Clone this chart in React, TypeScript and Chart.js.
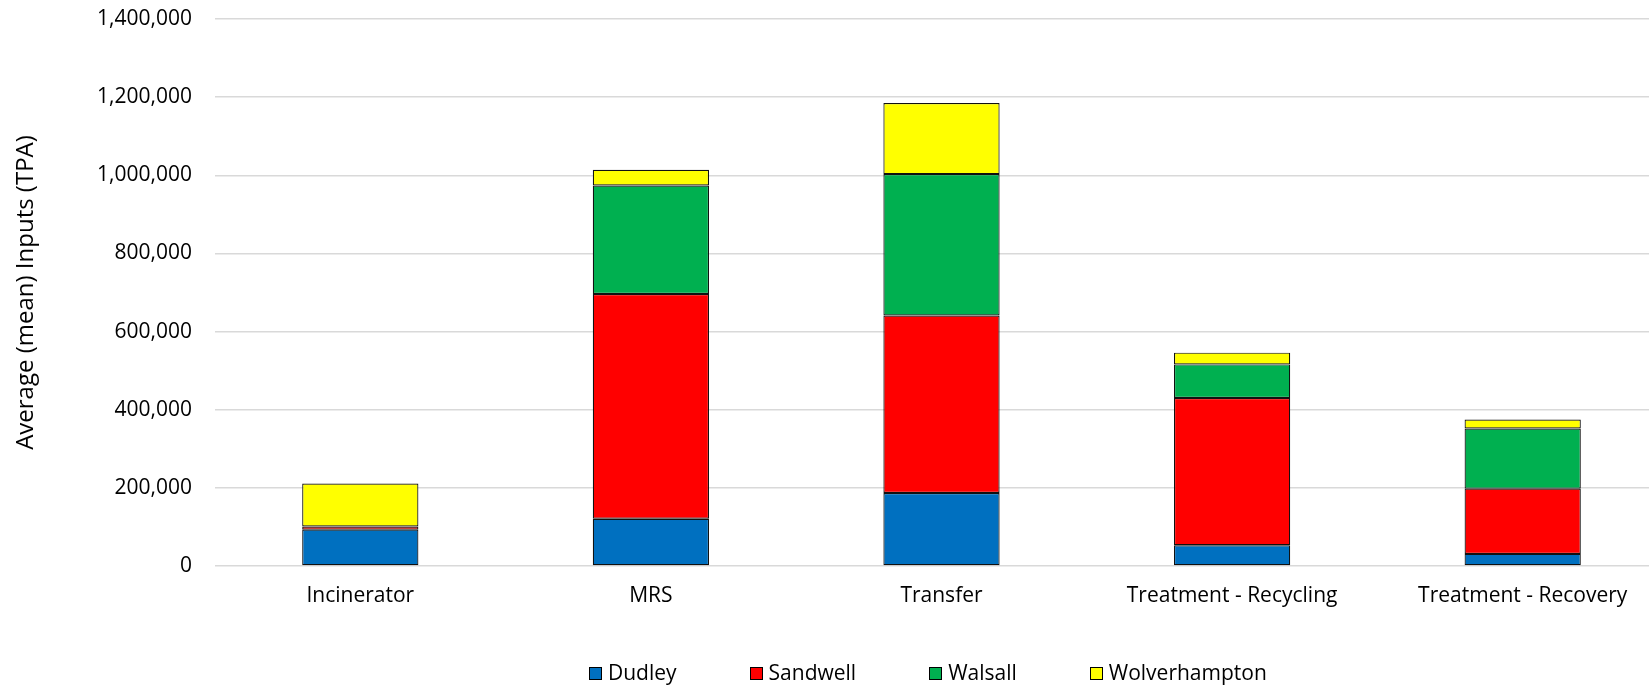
import React, { useEffect, useRef } from "react";
import { Chart, registerables } from "chart.js";

Chart.register(...registerables);

// Facility types along the category axis
const categories = [
  "Incinerator",
  "MRS",
  "Transfer",
  "Treatment - Recycling",
  "Treatment - Recovery",
];

// Average (mean) inputs in tonnes per annum, by authority
const dudley = [93000, 121000, 187000, 53000, 31000];
const sandwell = [8000, 575000, 454000, 377000, 167000];
const walsall = [0, 278000, 362000, 86000, 154000];
const wolverhampton = [110000, 40000, 182000, 30000, 23000];

const seriesNames = ["Dudley", "Sandwell", "Walsall", "Wolverhampton"];
const seriesColors = ["#0070C0", "#FF0000", "#00B050", "#FFFF00"];

// Value axis
const yMin = 0;
const yMax = 1400000;
const yStep = 200000;
const yTitle = "Average (mean) Inputs (TPA)";

const FONT = "'Open Sans', sans-serif";
const CANVAS_W = 1700;
const CANVAS_H = 686;

// Key drawn centred under the plot: square swatch, label, wide spacing
const bottomKey = {
  id: "bottomKey",
  afterDraw(chart: any, _args: any, opts: any) {
    const { ctx } = chart;
    const box = 13;
    const gap = 6;
    const spacing = 73;
    ctx.save();
    ctx.font = `21px ${FONT}`;
    ctx.textBaseline = "middle";
    ctx.textAlign = "left";
    const items = chart.data.datasets.map((ds: any) => ({
      label: ds.label as string,
      color: ds.backgroundColor as string,
      w: ctx.measureText(ds.label).width,
    }));
    const total =
      items.reduce((s: number, it: any) => s + box + gap + it.w, 0) +
      spacing * (items.length - 1);
    let x = Math.round(opts.centerX - total / 2);
    const y = opts.centerY;
    for (const it of items) {
      const bx = Math.round(x);
      const by = Math.round(y - box / 2);
      ctx.fillStyle = it.color;
      ctx.fillRect(bx, by, box, box);
      ctx.lineWidth = 1;
      ctx.strokeStyle = "#000";
      ctx.strokeRect(bx + 0.5, by + 0.5, box - 1, box - 1);
      ctx.fillStyle = "#000";
      ctx.fillText(it.label, x + box + gap, y + 1);
      x += box + gap + it.w + spacing;
    }
    ctx.restore();
  },
};

export default function App() {
  const canvasRef = useRef<HTMLCanvasElement | null>(null);

  useEffect(() => {
    const canvas = canvasRef.current;
    if (!canvas) return;
    const values = [dudley, sandwell, walsall, wolverhampton];
    const chart = new Chart(canvas, {
      type: "bar",
      data: {
        labels: categories,
        datasets: seriesNames.map((name, i) => ({
          label: name,
          data: values[i],
          backgroundColor: seriesColors[i],
          borderColor: "#111",
          borderWidth: 1.2,
          borderSkipped: false,
          barPercentage: 0.4,
          categoryPercentage: 1,
        })),
      },
      options: {
        responsive: false,
        animation: false,
        devicePixelRatio: 1,
        layout: { padding: { top: 19, right: CANVAS_W - 1668, bottom: 77, left: 0 } },
        plugins: {
          legend: { display: false },
          tooltip: { enabled: false },
          bottomKey: { centerX: 927.5, centerY: 673 },
        } as any,
        scales: {
          x: {
            stacked: true,
            grid: { display: false, drawTicks: false },
            border: { display: false },
            ticks: {
              color: "#000",
              font: { family: FONT, size: 21 },
              padding: 17,
              maxRotation: 0,
              autoSkip: false,
            },
            afterFit(scale: any) {
              scale.height = 43;
            },
          },
          y: {
            stacked: true,
            min: yMin,
            max: yMax,
            grid: {
              color: "#d9d9d9",
              lineWidth: 1.5,
              drawTicks: true,
              tickLength: 23,
              tickColor: "rgba(0,0,0,0)",
            },
            border: { display: false },
            ticks: {
              stepSize: yStep,
              color: "#000",
              padding: 0,
              font: { family: FONT, size: 21 },
              callback: (v: any) => Number(v).toLocaleString("en-US"),
            },
            title: {
              display: true,
              text: yTitle,
              color: "#000",
              font: { family: FONT, size: 24 },
              padding: { top: 12, bottom: 0 },
            },
            afterFit(scale: any) {
              scale.width = 215;
            },
          },
        },
      },
      plugins: [bottomKey],
    });
    return () => chart.destroy();
  }, []);

  return (
    <div
      style={{
        position: "absolute",
        left: 0,
        top: 0,
        width: 1649,
        height: CANVAS_H,
        overflow: "hidden",
        background: "#fff",
      }}
    >
      <canvas ref={canvasRef} width={CANVAS_W} height={CANVAS_H} style={{ display: "block" }} />
    </div>
  );
}
